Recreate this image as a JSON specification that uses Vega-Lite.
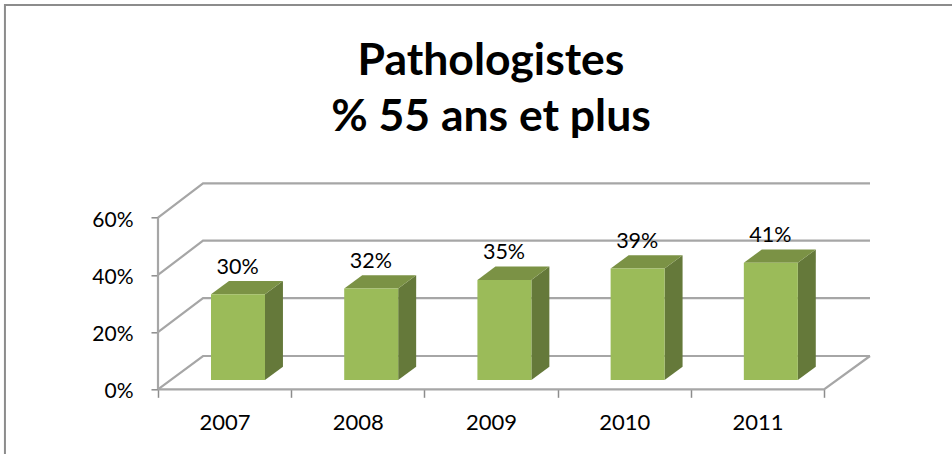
{"$schema":"https://vega.github.io/schema/vega-lite/v6.json","width":712,"height":206,"autosize":"none","padding":{"left":158,"top":183.3,"right":82,"bottom":64.7},"background":"#ffffff","view":{"stroke":null},
"title":{"text":["Pathologistes","% 55 ans et plus"],"font":"Lato","fontSize":44.5,"fontWeight":"bold","color":"#000000","anchor":"middle","dx":-23,"offset":-140,"lineHeight":56},
"datasets":{"bars":[{"year":2007,"value":0.30},{"year":2008,"value":0.32},{"year":2009,"value":0.35},{"year":2010,"value":0.39},{"year":2011,"value":0.41}],
"faces":[
{"year":2007,"face":"top","x":2007.398,"y":0.3325,"y2":0.3325},{"year":2007,"face":"top","x":2007.533,"y":0.3325,"y2":0.379},{"year":2007,"face":"top","x":2007.803,"y":0.3325,"y2":0.379},{"year":2007,"face":"top","x":2007.938,"y":0.379,"y2":0.379},
{"year":2008,"face":"top","x":2008.398,"y":0.3525,"y2":0.3525},{"year":2008,"face":"top","x":2008.533,"y":0.3525,"y2":0.399},{"year":2008,"face":"top","x":2008.803,"y":0.3525,"y2":0.399},{"year":2008,"face":"top","x":2008.938,"y":0.399,"y2":0.399},
{"year":2009,"face":"top","x":2009.398,"y":0.3825,"y2":0.3825},{"year":2009,"face":"top","x":2009.533,"y":0.3825,"y2":0.429},{"year":2009,"face":"top","x":2009.803,"y":0.3825,"y2":0.429},{"year":2009,"face":"top","x":2009.938,"y":0.429,"y2":0.429},
{"year":2010,"face":"top","x":2010.398,"y":0.4225,"y2":0.4225},{"year":2010,"face":"top","x":2010.533,"y":0.4225,"y2":0.469},{"year":2010,"face":"top","x":2010.803,"y":0.4225,"y2":0.469},{"year":2010,"face":"top","x":2010.938,"y":0.469,"y2":0.469},
{"year":2011,"face":"top","x":2011.398,"y":0.4425,"y2":0.4425},{"year":2011,"face":"top","x":2011.533,"y":0.4425,"y2":0.489},{"year":2011,"face":"top","x":2011.803,"y":0.4425,"y2":0.489},{"year":2011,"face":"top","x":2011.938,"y":0.489,"y2":0.489}],
"sides":[
{"year":2007,"x":2007.803,"y":0.3325,"y2":0.0325},{"year":2007,"x":2007.938,"y":0.379,"y2":0.079},
{"year":2008,"x":2008.803,"y":0.3525,"y2":0.0325},{"year":2008,"x":2008.938,"y":0.399,"y2":0.079},
{"year":2009,"x":2009.803,"y":0.3825,"y2":0.0325},{"year":2009,"x":2009.938,"y":0.429,"y2":0.079},
{"year":2010,"x":2010.803,"y":0.4225,"y2":0.0325},{"year":2010,"x":2010.938,"y":0.469,"y2":0.079},
{"year":2011,"x":2011.803,"y":0.4425,"y2":0.0325},{"year":2011,"x":2011.938,"y":0.489,"y2":0.079}],
"frame":[
{"line":"g0","x":2007,"y":0},{"line":"g0","x":2007.338,"y":0.1164},{"line":"g0","x":2012.345,"y":0.1164},
{"line":"g20","x":2007,"y":0.2},{"line":"g20","x":2007.338,"y":0.319},{"line":"g20","x":2012.345,"y":0.319},
{"line":"g40","x":2007,"y":0.4},{"line":"g40","x":2007.338,"y":0.5196},{"line":"g40","x":2012.345,"y":0.5196},
{"line":"g60","x":2007,"y":0.6},{"line":"g60","x":2007.338,"y":0.7203},{"line":"g60","x":2012.345,"y":0.7203},
{"line":"yaxis","x":2007,"y":0},{"line":"yaxis","x":2007,"y":0.6},
{"line":"floor","x":2007,"y":0},{"line":"floor","x":2012,"y":0},{"line":"floor","x":2012.345,"y":0.1164}],
"border":[{"i":0,"x":2005.851,"y":-0.3},{"i":1,"x":2005.851,"y":1.344},{"i":2,"x":2013.97,"y":1.344}]},
"layer":[
{"data":{"name":"border"},"mark":{"type":"line","stroke":"#8c8c8c","strokeWidth":2,"clip":false},"encoding":{"x":{"field":"x","type":"quantitative","scale":{"domain":[2007,2012.345],"nice":false,"zero":false},"axis":{"values":[2007,2008,2009,2010,2011,2012],"title":null,"grid":false,"domain":false,"ticks":true,"tickSize":8,"tickWidth":1.5,"tickColor":"#8c8c8c","labelFont":"Lato","labelFontSize":22,"labelColor":"#000000","labelOffset":66.6,"labelPadding":15,"labelAlign":"center","labelExpr":"datum.value < 2012 ? format(datum.value, 'd') : ''"}},"y":{"field":"y","type":"quantitative","scale":{"domain":[0,0.7203],"nice":false,"zero":false},"axis":{"values":[0,0.2,0.4,0.6],"format":"0%","title":null,"grid":false,"domain":false,"ticks":true,"tickSize":7,"tickWidth":1.5,"tickColor":"#8c8c8c","labelFont":"Lato","labelFontSize":21,"labelColor":"#000000","labelPadding":18,"labelOffset":2.5}},"order":{"field":"i"}}},
{"data":{"name":"frame"},"mark":{"type":"line","stroke":"#a6a6a6","strokeWidth":2.2},"encoding":{"x":{"field":"x","type":"quantitative"},"y":{"field":"y","type":"quantitative"},"detail":{"field":"line"},"order":{"value":0}}},
{"data":{"name":"sides"},"mark":{"type":"area","fill":"#65793a","opacity":1},"encoding":{"x":{"field":"x","type":"quantitative"},"y":{"field":"y","type":"quantitative"},"y2":{"field":"y2"},"detail":{"field":"year"}}},
{"data":{"name":"faces"},"mark":{"type":"area","fill":"#7b9245","opacity":1},"encoding":{"x":{"field":"x","type":"quantitative"},"y":{"field":"y","type":"quantitative"},"y2":{"field":"y2"},"detail":{"field":"year"}}},
{"data":{"name":"bars"},"mark":{"type":"rect","fill":"#9bbb59","xOffset":53,"x2Offset":107,"yOffset":-9.3,"y2Offset":-9.3},"encoding":{"x":{"field":"year","type":"quantitative"},"x2":{"field":"year"},"y":{"field":"value","type":"quantitative"},"y2":{"datum":0}}},
{"data":{"name":"bars"},"mark":{"type":"text","font":"Lato","fontSize":21.5,"color":"#000000","xOffset":79.6,"yOffset":-36,"align":"center","baseline":"middle"},"encoding":{"x":{"field":"year","type":"quantitative"},"y":{"field":"value","type":"quantitative"},"text":{"field":"value","type":"quantitative","format":".0%"}}}
]}
